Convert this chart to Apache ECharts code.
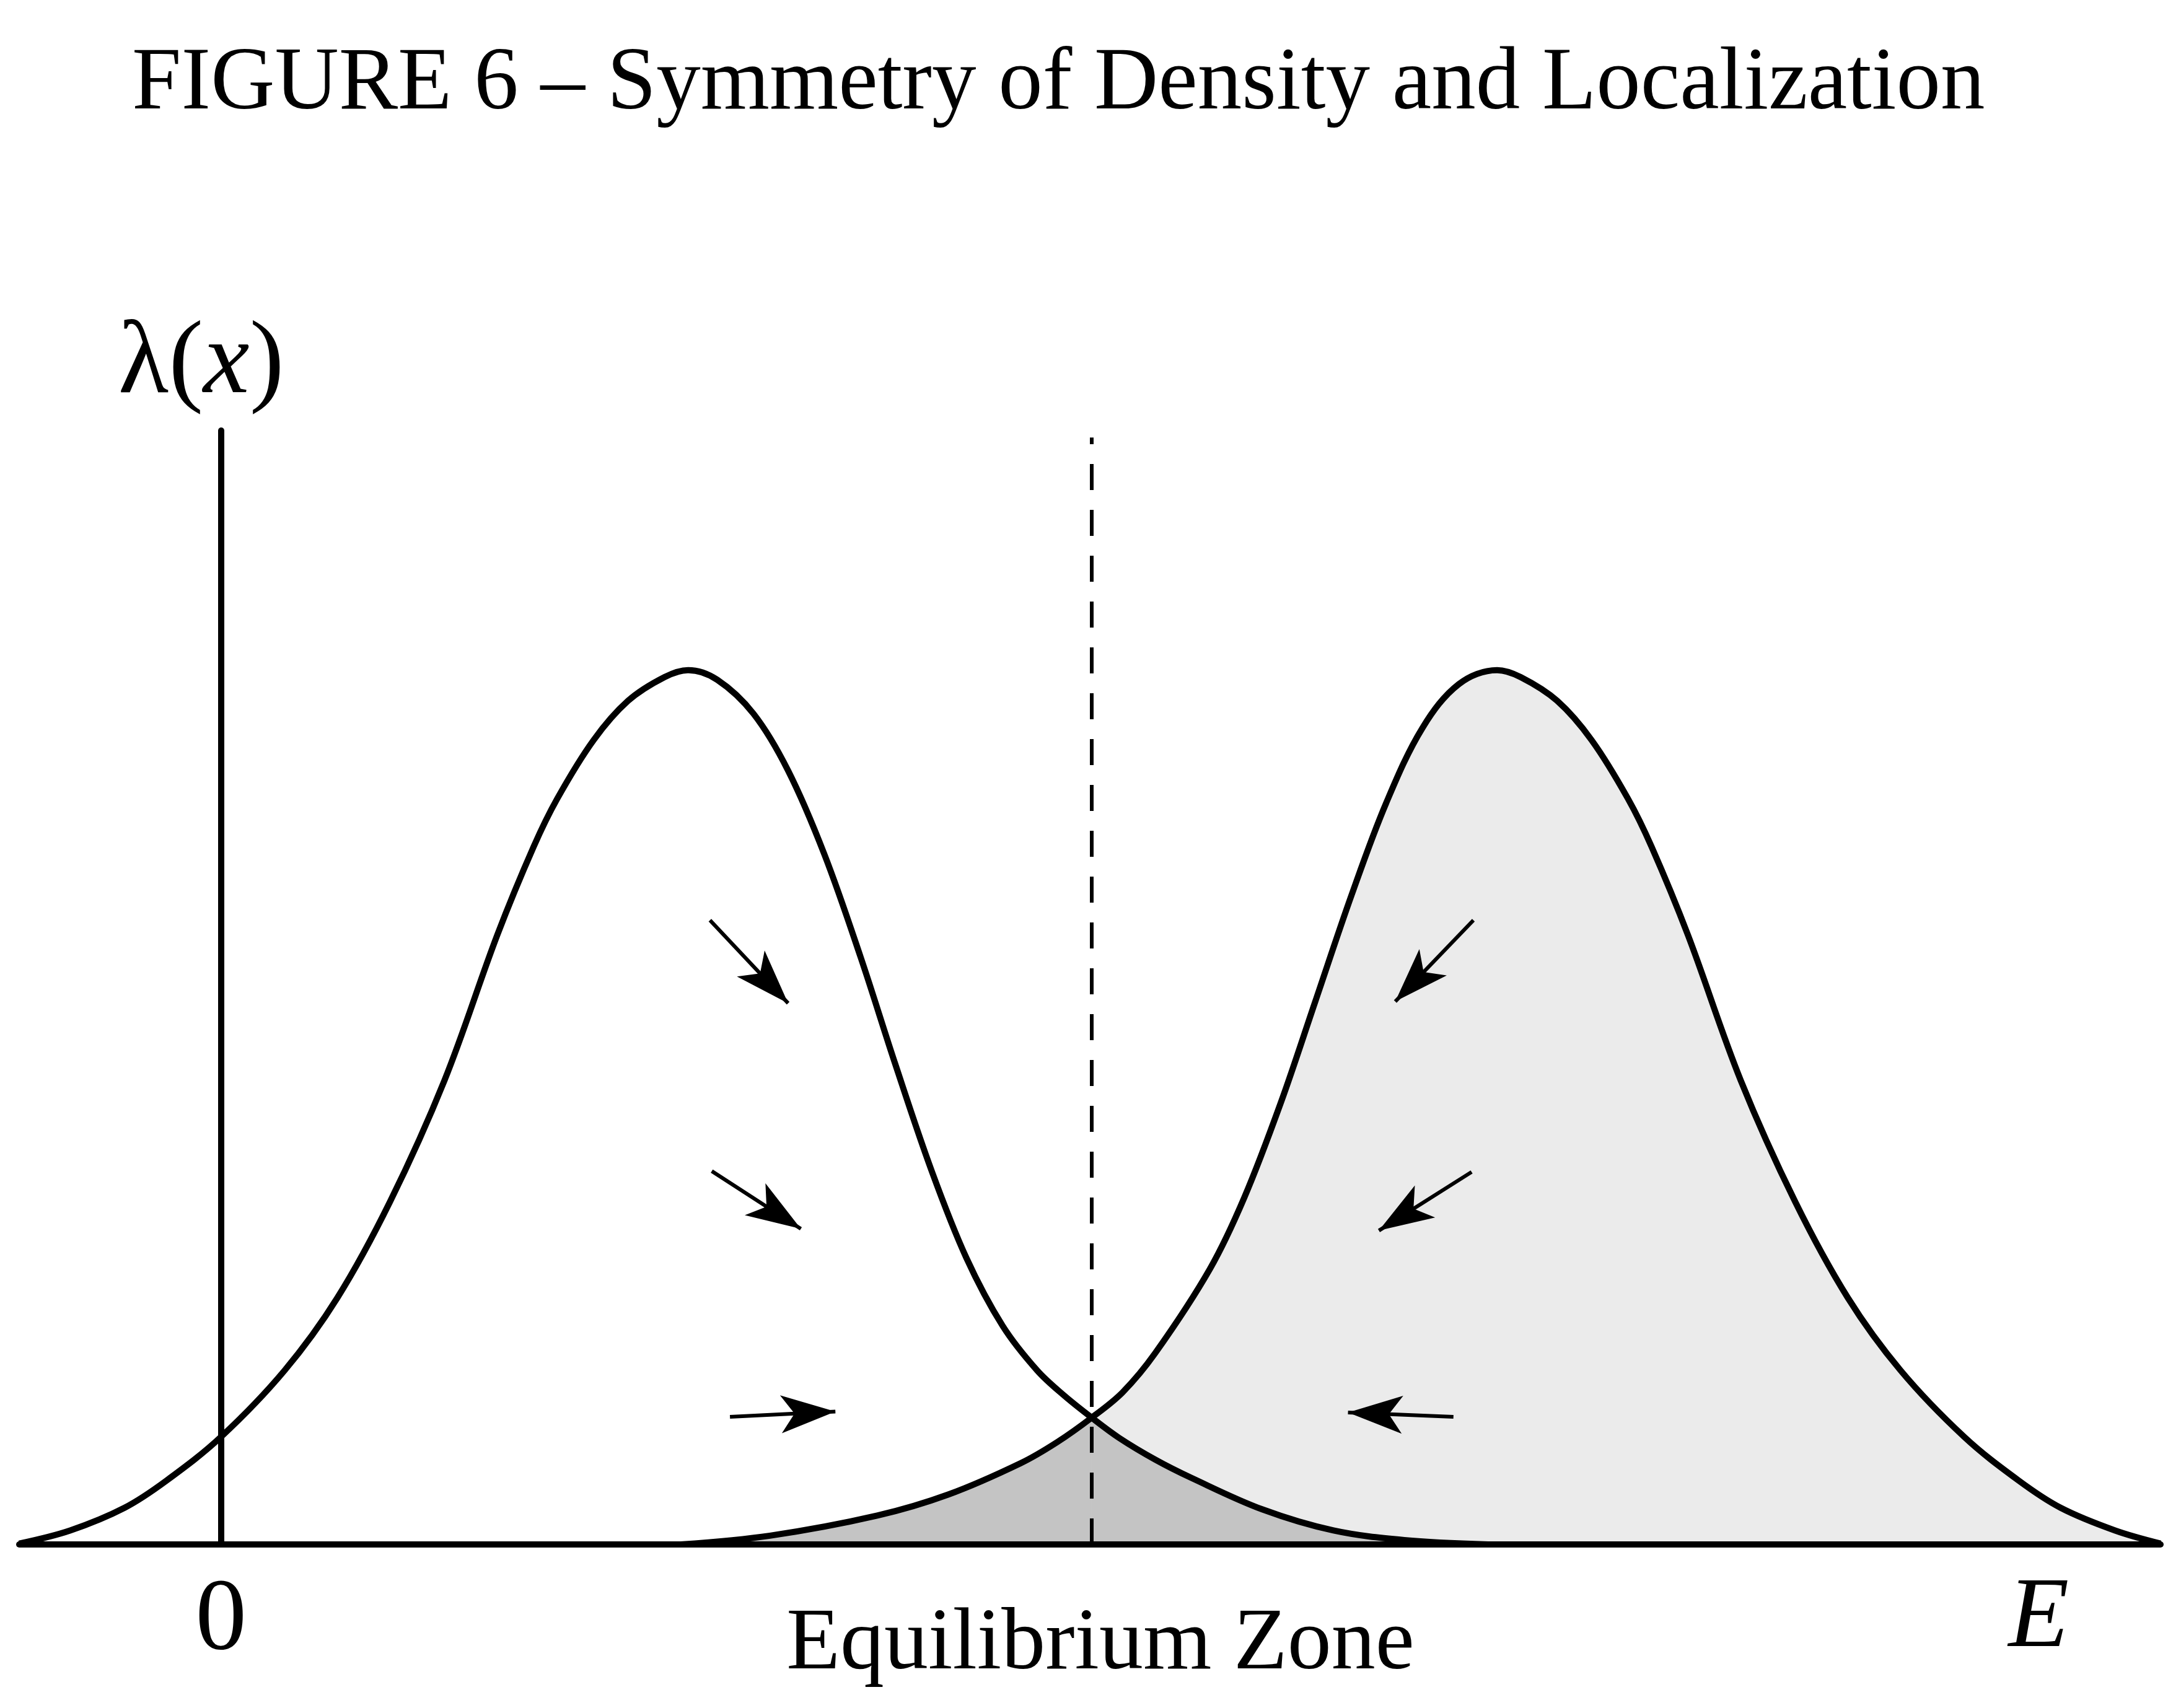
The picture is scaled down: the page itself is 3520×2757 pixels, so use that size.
<!DOCTYPE html>
<html>
<head>
<meta charset="utf-8">
<title>Figure 6</title>
<script src="https://cdn.jsdelivr.net/npm/echarts@6/dist/echarts.min.js"></script>
<style>
  html, body { margin: 0; padding: 0; background: #fff; }
  #chart { width: 3520px; height: 2757px; }
</style>
</head>
<body>
<div id="chart"></div>
<script>
// x in units where 0 is the vertical axis and E = 10, y in units where a peak = 10
const leftCurve = [
  [-1.11, 0.01], [-0.83, 0.16], [-0.53, 0.42], [-0.30, 0.73], [0, 1.23], [0.35, 1.99],
  [0.64, 2.82], [0.93, 3.92], [1.23, 5.31], [1.52, 6.97], [1.72, 7.98], [1.85, 8.53],
  [2.05, 9.20], [2.24, 9.65], [2.44, 9.92], [2.57, 10.0], [2.73, 9.89], [2.93, 9.50],
  [3.12, 8.85], [3.32, 7.89], [3.52, 6.71], [3.71, 5.49], [3.91, 4.27], [4.10, 3.28],
  [4.30, 2.50], [4.49, 1.99], [4.64, 1.70], [4.79, 1.45], [4.94, 1.22], [5.14, 0.97],
  [5.34, 0.76], [5.73, 0.40], [6.12, 0.16], [6.51, 0.05], [6.97, 0]
];
const rightCurve = [
  [2.53, 0], [3.02, 0.10], [3.61, 0.33], [4.00, 0.57], [4.40, 0.93], [4.60, 1.17],
  [4.79, 1.45], [4.96, 1.74], [5.14, 2.19], [5.44, 3.15], [5.63, 3.97], [5.83, 5.05],
  [6.02, 6.21], [6.22, 7.43], [6.41, 8.48], [6.61, 9.34], [6.81, 9.84], [7.02, 10.0],
  [7.15, 9.92], [7.35, 9.65], [7.54, 9.20], [7.74, 8.53], [7.87, 7.98], [8.07, 6.97],
  [8.36, 5.31], [8.66, 3.92], [8.95, 2.82], [9.24, 1.99], [9.59, 1.23], [9.89, 0.73],
  [10.12, 0.42], [10.42, 0.16], [10.67, 0.01]
];
const crossX = 4.79;
// arrows: [tailX, tailY, tipX, tipY]
const arrows = [
  [2.69, 7.14, 3.12, 6.19],
  [2.70, 4.27, 3.19, 3.61],
  [2.80, 1.46, 3.38, 1.52],
  [6.89, 7.14, 6.46, 6.21],
  [6.88, 4.26, 6.37, 3.59],
  [6.78, 1.46, 6.20, 1.51]
];
const tickValues = [0, 10];
const tickLabels = ['0', 'E'];

const serif = 'Liberation Serif';
const chart = echarts.init(document.getElementById('chart'));

const overlapLeft = rightCurve.filter(p => p[0] <= crossX);
const overlapRight = leftCurve.filter(p => p[0] >= crossX);

const arrowLines = arrows.map(a => [{ coord: [a[0], a[1]] }, { coord: [a[2], a[3]] }]);

const option = {
  backgroundColor: '#fff',
  animation: false,
  title: {
    text: 'FIGURE 6 – Symmetry of Density and Localization',
    left: 213,
    top: 66,
    padding: 0,
    textStyle: { fontFamily: serif, fontSize: 143, fontWeight: 'normal', color: '#000' }
  },
  grid: { left: 31, right: 33, top: 695, bottom: 264, outerBoundsMode: 'none' },
  xAxis: {
    type: 'value',
    min: -1.11,
    max: 10.67,
    z: 10,
    axisLine: { show: true, onZero: true, lineStyle: { color: '#000', width: 10 } },
    axisTick: { show: false },
    splitLine: { show: false },
    axisLabel: {
      customValues: tickValues,
      margin: 42,
      formatter: v => v === 0 ? '{n|' + tickLabels[0] + '}' : '{e|' + tickLabels[1] + '}',
      rich: {
        n: { fontFamily: serif, fontSize: 165, color: '#000' },
        e: { fontFamily: serif, fontSize: 160, fontStyle: 'italic', color: '#000' }
      }
    },
    name: 'Equilibrium Zone',
    nameLocation: 'middle',
    nameGap: 92,
    nameMoveOverlap: false,
    nameTextStyle: { fontFamily: serif, fontSize: 142, color: '#000', padding: [0, 0, 0, 34] }
  },
  yAxis: {
    type: 'value',
    min: 0,
    max: 12.74,
    z: 10,
    axisLine: { show: true, onZero: true, lineStyle: { color: '#000', width: 10 } },
    axisTick: { show: false },
    axisLabel: { show: false },
    splitLine: { show: false },
    name: '{n|λ(}{i|x}{n|)}',
    nameLocation: 'end',
    nameGap: 22,
    nameMoveOverlap: false,
    nameTextStyle: {
      padding: [0, 64, 0, 0],
      rich: {
        n: { fontFamily: serif, fontSize: 168, color: '#000' },
        i: { fontFamily: serif, fontSize: 168, fontStyle: 'italic', color: '#000' }
      }
    }
  },
  series: [
    {
      type: 'line', data: rightCurve, smooth: 0.35, symbol: 'none', silent: true,
      lineStyle: { width: 0 }, areaStyle: { color: '#ebebeb', opacity: 1 }, z: 1
    },
    {
      type: 'line', data: overlapLeft, smooth: 0.35, symbol: 'none', silent: true,
      lineStyle: { width: 0 }, areaStyle: { color: '#c4c4c4', opacity: 1 }, z: 2
    },
    {
      type: 'line', data: overlapRight, smooth: 0.35, symbol: 'none', silent: true,
      lineStyle: { width: 0 }, areaStyle: { color: '#c4c4c4', opacity: 1 }, z: 2
    },
    {
      type: 'line', data: rightCurve, smooth: 0.35, symbol: 'none', silent: true,
      lineStyle: { color: '#000', width: 10 }, z: 4
    },
    {
      type: 'line', data: leftCurve, smooth: 0.35, symbol: 'none', silent: true,
      lineStyle: { color: '#000', width: 10 }, z: 4,
      markLine: {
        silent: true,
        symbol: ['none', 'none'],
        label: { show: false },
        lineStyle: { color: '#000', width: 6, type: [42, 32] },
        data: [[{ coord: [crossX, 0] }, { coord: [crossX, 12.66] }]]
      }
    },
    {
      type: 'line', data: [], symbol: 'none', silent: true, z: 5,
      markLine: {
        silent: true,
        symbol: ['none', 'arrow'],
        symbolSize: [46, 88],
        label: { show: false },
        lineStyle: { color: '#000', width: 6, type: 'solid' },
        data: arrowLines
      }
    }
  ]
};

chart.setOption(option);
</script>
</body>
</html>
